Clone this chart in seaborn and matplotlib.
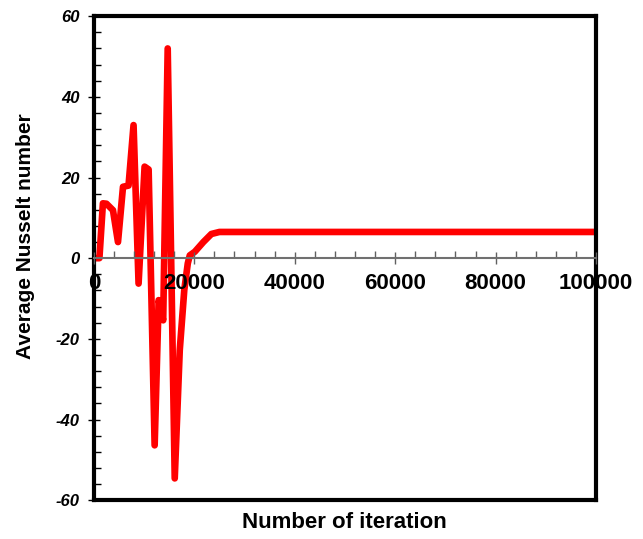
import numpy as np
import pandas as pd
import matplotlib
matplotlib.use("Agg")
import matplotlib.pyplot as plt
from matplotlib.ticker import MultipleLocator
import seaborn as sns

# values
iterations = [0, 1100, 1800, 2500, 3800, 4800, 5800, 6900, 7900, 8900,
              10100, 10900, 12100, 12900, 13800, 14700, 16100, 17100,
              18000, 18700, 19100, 20100, 21800, 23400, 25000, 100000]
nusselt = [0, 0, 13.6, 13.5, 11.9, 4.0, 17.7, 18.0, 33.0, -6.3,
           22.7, 22.0, -46.4, -10.4, -15.4, 52.0, -54.6, -22.8,
           -7.9, -1.3, 0.7, 1.6, 4.0, 6.0, 6.5, 6.5]

x_ticks = [0, 20000, 40000, 60000, 80000, 100000]
y_ticks = [-60, -40, -20, 0, 20, 40, 60]

df = pd.DataFrame({"iteration": iterations, "nusselt": nusselt})

sns.set_style("white")
plt.rcParams["font.family"] = ["Liberation Sans", "DejaVu Sans"]
plt.rcParams["axes.unicode_minus"] = False
plt.rcParams["text.color"] = "black"
plt.rcParams["axes.labelcolor"] = "black"
plt.rcParams["xtick.color"] = "black"
plt.rcParams["ytick.color"] = "black"

fig = plt.figure(figsize=(6.43, 5.39), dpi=100)
ax = fig.add_axes([0.146, 0.072, 0.781, 0.898])

sns.lineplot(data=df, x="iteration", y="nusselt", color="#ff0000",
             linewidth=4.8, ax=ax, sort=False)
for line in ax.get_lines():
    line.set_solid_joinstyle("round")
    line.set_solid_capstyle("round")

ax.set_xlim(0, 100000)
ax.set_ylim(-60, 60)

# frame
for side in ["top", "bottom", "left", "right"]:
    ax.spines[side].set_color("black")
    ax.spines[side].set_linewidth(3)

# y axis
ax.set_yticks(y_ticks)
ax.set_yticklabels([str(v) for v in y_ticks], fontsize=12,
                   fontweight="bold", fontstyle="italic", color="black")
ax.yaxis.set_minor_locator(MultipleLocator(4))
ax.tick_params(axis="y", which="major", direction="inout", length=8,
               width=1, pad=6, left=True, colors="black")
ax.tick_params(axis="y", which="minor", direction="in", length=5,
               width=1, left=True, colors="black")

# x axis drawn along the zero line, labels on top of the curve
ax.set_xticks([])
ax.tick_params(axis="x", which="both", bottom=False, labelbottom=False)
sec = ax.secondary_xaxis(0.5)
sec.set_zorder(5)
sec.xaxis.set_ticks_position("bottom")
sec.set_xticks(x_ticks)
sec.set_xticklabels([str(v) for v in x_ticks], fontsize=16,
                    fontweight="bold", color="black")
sec.xaxis.set_minor_locator(MultipleLocator(4000))
sec.tick_params(axis="x", which="major", direction="inout", length=9,
                width=1, pad=6, color="#606060", bottom=True, top=False,
                labelbottom=True, labeltop=False)
sec.tick_params(axis="x", which="minor", direction="in", length=5,
                width=1, color="#606060", bottom=True, top=False)
for side in sec.spines:
    sec.spines[side].set_color("#707070")
    sec.spines[side].set_linewidth(1.5)

ax.set_xlabel("")
ax.set_ylabel("Average Nusselt number", fontsize=15, fontweight="bold",
              color="black")
ax.yaxis.set_label_coords(-0.118, 0.545)
fig.text(0.535, 0.031, "Number of iteration", ha="center", va="center",
         fontsize=16, fontweight="bold", color="black")

fig.savefig("out.png", dpi=100)
